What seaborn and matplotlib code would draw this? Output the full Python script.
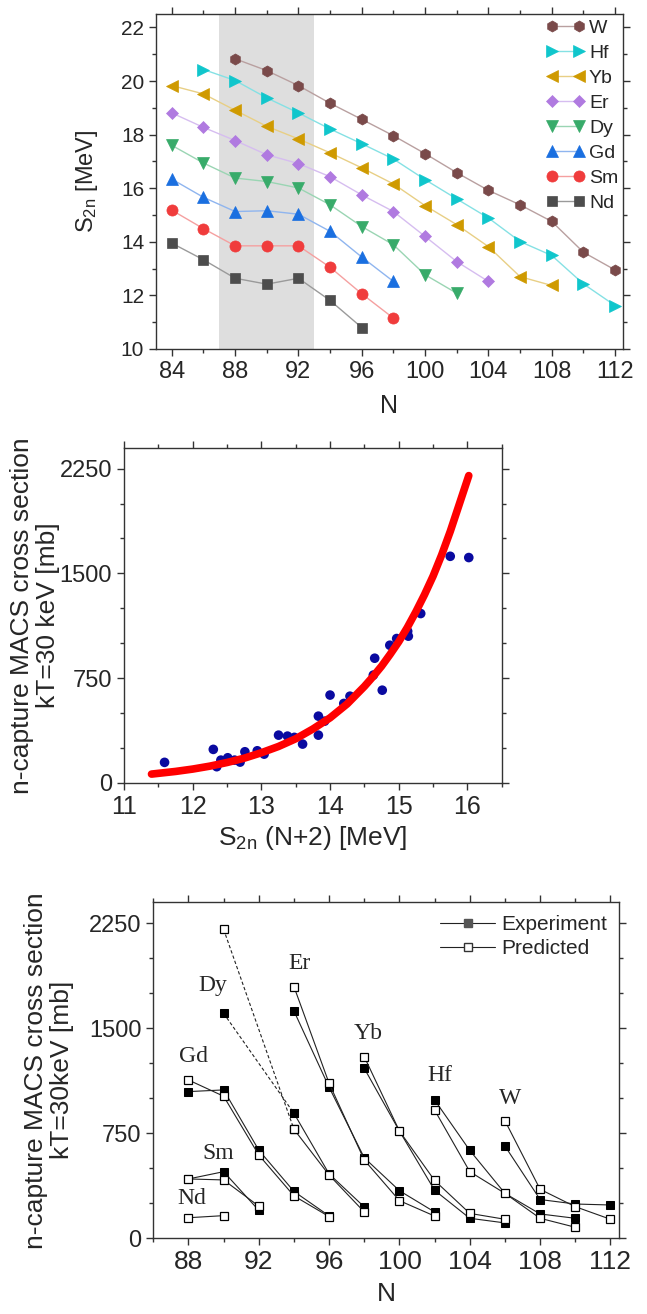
import numpy as np
import pandas as pd
import matplotlib
matplotlib.use("Agg")
import matplotlib.pyplot as plt
from matplotlib.ticker import MultipleLocator
import seaborn as sns

# ---- panel (a): S2n vs N ----
elements = ["Nd", "Sm", "Gd", "Dy", "Er", "Yb", "Hf", "W"]
n_nd = [84, 86, 88, 90, 92, 94, 96]
s2n_nd = [13.95, 13.33, 12.64, 12.42, 12.64, 11.81, 10.80]
n_sm = [84, 86, 88, 90, 92, 94, 96, 98]
s2n_sm = [15.18, 14.49, 13.85, 13.85, 13.85, 13.05, 12.06, 11.15]
n_gd = [84, 86, 88, 90, 92, 94, 96, 98]
s2n_gd = [16.34, 15.66, 15.13, 15.16, 15.03, 14.39, 13.43, 12.52]
n_dy = [84, 86, 88, 90, 92, 94, 96, 98, 100, 102]
s2n_dy = [17.60, 16.94, 16.38, 16.25, 16.01, 15.38, 14.57, 13.89, 12.77, 12.08]
n_er = [84, 86, 88, 90, 92, 94, 96, 98, 100, 102, 104]
s2n_er = [18.81, 18.27, 17.78, 17.25, 16.92, 16.43, 15.75, 15.13, 14.20, 13.26, 12.52]
n_yb = [84, 86, 88, 90, 92, 94, 96, 98, 100, 102, 104, 106, 108]
s2n_yb = [19.83, 19.52, 18.91, 18.31, 17.84, 17.32, 16.76, 16.16, 15.35, 14.64, 13.82, 12.70, 12.37]
n_hf = [86, 88, 90, 92, 94, 96, 98, 100, 102, 104, 106, 108, 110, 112]
s2n_hf = [20.43, 20.02, 19.37, 18.81, 18.21, 17.66, 17.09, 16.32, 15.60, 14.89, 14.01, 13.49, 12.43, 11.62]
n_w = [88, 90, 92, 94, 96, 98, 100, 102, 104, 106, 108, 110, 112]
s2n_w = [20.83, 20.39, 19.83, 19.17, 18.57, 17.96, 17.29, 16.58, 15.92, 15.38, 14.76, 13.61, 12.95]

# ---- panel (b): MACS vs S2n(N+2) ----
s2n_pts = [11.59, 12.30, 12.35, 12.41, 12.51, 12.61, 12.69, 12.76, 12.94, 13.04,
           13.25, 13.38, 13.48, 13.60, 13.83, 13.83, 13.92, 14.00, 14.20, 14.29,
           14.63, 14.65, 14.76, 14.87, 14.97, 15.13, 15.14, 15.32, 15.75, 16.02]
macs_pts = [146, 239, 115, 162, 179, 162, 148, 222, 229, 205,
            341, 334, 325, 277, 477, 341, 441, 628, 568, 620,
            771, 892, 663, 985, 1033, 1085, 1050, 1212, 1622, 1613]
# red trend curve
fit_x = [11.4, 11.75, 12.0, 12.25, 12.5, 12.75, 13.0, 13.25, 13.5, 13.75,
         14.0, 14.25, 14.5, 14.625, 14.75, 14.875, 15.0, 15.125, 15.25,
         15.375, 15.5, 15.625, 15.75, 15.875, 16.02]
fit_y = [62, 81, 98, 119, 145, 176, 215, 260, 315, 385,
         465, 565, 690, 760, 835, 920, 1010, 1112, 1225,
         1347, 1480, 1632, 1800, 1985, 2200]

# ---- panel (c): MACS vs N, experiment / predicted ----
c_n_nd = [88, 90]
c_pred_nd = [147, 162]
c_n_sm = [88, 90, 92]
c_exp_sm = [424, 476, 200]
c_pred_sm = [424, 417, 230]
c_n_gd = [88, 90, 92, 94, 96]
c_exp_gd = [1048, 1060, 630, 335, 160]
c_pred_gd = [1131, 1015, 595, 303, 155]
c_n_dy = [90, 94, 96, 98]
c_exp_dy = [1607, 893, 460, 224]
c_pred_dy = [2207, 779, 452, 188]
c_n_er = [94, 96, 98, 100, 102]
c_exp_er = [1624, 1079, 575, 340, 188]
c_pred_er = [1798, 1107, 559, 269, 159]
c_n_yb = [98, 100, 102, 104, 106]
c_exp_yb = [1214, 766, 343, 143, 110]
c_pred_yb = [1297, 766, 413, 178, 136]
c_n_hf = [102, 104, 106, 108, 110]
c_exp_hf = [988, 628, 321, 174, 143]
c_pred_hf = [916, 476, 321, 143, 79]
c_n_w = [106, 108, 110, 112]
c_exp_w = [659, 277, 245, 238]
c_pred_w = [840, 350, 226, 136]

sns.set_style("ticks")
plt.rcParams["font.family"] = ["Liberation Sans", "DejaVu Sans"]
plt.rcParams["mathtext.fontset"] = "custom"
plt.rcParams["mathtext.rm"] = "Liberation Sans"
plt.rcParams["mathtext.it"] = "Liberation Sans"

fig = plt.figure(figsize=(6.47, 13.14), dpi=100)
ax1 = fig.add_axes([0.2411, 0.7344, 0.7218, 0.2549])
ax2 = fig.add_axes([0.1917, 0.4043, 0.5838, 0.2550])
ax3 = fig.add_axes([0.2369, 0.0576, 0.7202, 0.2557])


def style_axis(ax, xfs, yfs):
    ax.tick_params(which="both", direction="out", top=True, right=True,
                   labeltop=False, labelright=False, width=1, color="#333333")
    ax.tick_params(which="major", length=5)
    ax.tick_params(which="minor", length=3)
    ax.tick_params(axis="x", labelsize=xfs)
    ax.tick_params(axis="y", labelsize=yfs)
    for sp in ax.spines.values():
        sp.set_visible(True)
        sp.set_linewidth(1)
        sp.set_color("#333333")


# ---------- top panel ----------
top_series = {
    "Nd": (n_nd, s2n_nd, "s", "#4d4d4d", "#9a9a9a"),
    "Sm": (n_sm, s2n_sm, "o", "#f03c3c", "#f5a0a0"),
    "Gd": (n_gd, s2n_gd, "^", "#1a6fe0", "#8fb5ef"),
    "Dy": (n_dy, s2n_dy, "v", "#38ab6a", "#9ad5b3"),
    "Er": (n_er, s2n_er, "D", "#b07ae0", "#d6bdf0"),
    "Yb": (n_yb, s2n_yb, "<", "#cf9a00", "#e8cf85"),
    "Hf": (n_hf, s2n_hf, ">", "#10c6cc", "#85e1e4"),
    "W": (n_w, s2n_w, "h", "#7a4a4a", "#b9a0a0"),
}
ax1.axvspan(87, 93, color="#dedede", zorder=0, lw=0)
handles = {}
for name in elements:
    xs, ys, mk, col, lcol = top_series[name]
    ms = 6.5 if mk in ("D", "s") else 8
    sns.lineplot(x=xs, y=ys, ax=ax1, marker=mk, color=col, linewidth=1,
                 markersize=ms, markeredgewidth=0.5, label=name)
    ln = ax1.lines[-1]
    ln.set_color(lcol)
    ln.set_markerfacecolor(col)
    ln.set_markeredgecolor(col)
    handles[name] = ln
order = ["W", "Hf", "Yb", "Er", "Dy", "Gd", "Sm", "Nd"]
ax1.legend([handles[k] for k in order], order, loc="upper right", frameon=False,
           fontsize=14, numpoints=2, handlelength=2.0, handletextpad=0.2,
           labelspacing=0.38, borderaxespad=0.05, borderpad=0.2)
ax1.set_xlim(83, 112.5)
ax1.set_ylim(10, 22.5)
ax1.xaxis.set_major_locator(MultipleLocator(4))
ax1.xaxis.set_minor_locator(MultipleLocator(2))
ax1.yaxis.set_major_locator(MultipleLocator(2))
ax1.yaxis.set_minor_locator(MultipleLocator(1))
style_axis(ax1, 17, 15)
ax1.set_xlabel("N", fontsize=18, labelpad=8)
ax1.set_ylabel(r"S$_{\mathrm{2n}}$ [MeV]", fontsize=17)
ax1.yaxis.set_label_coords(-0.12, 0.5)

# ---------- middle panel ----------
sns.scatterplot(x=s2n_pts, y=macs_pts, ax=ax2, color="#0a0aa0", s=48,
                edgecolor="none", zorder=3)
sns.lineplot(x=fit_x, y=fit_y, ax=ax2, color="red", linewidth=5.5,
             solid_capstyle="round", solid_joinstyle="round", zorder=4)
ax2.set_xlim(11, 16.5)
ax2.set_ylim(0, 2400)
ax2.xaxis.set_major_locator(MultipleLocator(1))
ax2.xaxis.set_minor_locator(MultipleLocator(0.5))
ax2.yaxis.set_major_locator(MultipleLocator(750))
ax2.yaxis.set_minor_locator(MultipleLocator(250))
style_axis(ax2, 18, 17)
ax2.set_xlabel(r"S$_{\mathrm{2n}}$ (N+2) [MeV]", fontsize=19)
ax2.set_ylabel("n-capture MACS cross section\nkT=30 keV [mb]", fontsize=19,
               linespacing=1.1)
ax2.yaxis.set_label_coords(-0.17, 0.5)

# ---------- bottom panel ----------
bottom_series = [
    (c_n_sm, c_exp_sm), (c_n_gd, c_exp_gd), (c_n_er, c_exp_er),
    (c_n_yb, c_exp_yb), (c_n_hf, c_exp_hf), (c_n_w, c_exp_w),
]
pred_series = [
    (c_n_nd, c_pred_nd), (c_n_sm, c_pred_sm), (c_n_gd, c_pred_gd),
    (c_n_er, c_pred_er), (c_n_yb, c_pred_yb), (c_n_hf, c_pred_hf),
    (c_n_w, c_pred_w),
]
exp_kw = dict(marker="s", color="#222222", linewidth=0.8, markersize=6,
              markerfacecolor="black", markeredgecolor="black", ax=ax3)
pred_kw = dict(marker="s", color="#222222", linewidth=0.8, markersize=6,
               markerfacecolor="white", markeredgecolor="black",
               markeredgewidth=0.9, ax=ax3)
for xs, ys in bottom_series:
    sns.lineplot(x=xs, y=ys, **exp_kw)
# Dy: dashed across the missing N=92, solid afterwards
sns.lineplot(x=c_n_dy[:2], y=c_exp_dy[:2], linestyle=(0, (3, 2)), **exp_kw)
sns.lineplot(x=c_n_dy[1:], y=c_exp_dy[1:], **exp_kw)
for xs, ys in pred_series:
    sns.lineplot(x=xs, y=ys, **pred_kw)
sns.lineplot(x=c_n_dy[:2], y=c_pred_dy[:2], linestyle=(0, (3, 2)), **pred_kw)
sns.lineplot(x=c_n_dy[1:], y=c_pred_dy[1:], **pred_kw)

label_pos = {"Nd": (88.2, 286), "Sm": (89.7, 607), "Gd": (88.3, 1297),
             "Dy": (89.4, 1809), "Er": (94.3, 1964), "Yb": (98.2, 1464),
             "Hf": (102.3, 1166), "W": (106.3, 1000)}
for name, (lx, ly) in label_pos.items():
    ax3.text(lx, ly, name, ha="center", va="center", fontsize=17,
             family=["Liberation Serif", "DejaVu Serif"])

h_exp = plt.Line2D([], [], marker="s", color="#222222", lw=0.8, ms=6,
                   mfc="#555555", mec="#555555")
h_pred = plt.Line2D([], [], marker="s", color="#222222", lw=0.8, ms=6,
                    mfc="white", mec="#333333")
ax3.legend([h_exp, h_pred], ["Experiment", "Predicted"], loc="upper right",
           frameon=False, fontsize=15, numpoints=1, handlelength=2.6,
           handletextpad=0.3, labelspacing=0.25, borderaxespad=0.2)
ax3.set_xlim(86, 112.5)
ax3.set_ylim(0, 2400)
ax3.xaxis.set_major_locator(MultipleLocator(4))
ax3.xaxis.set_minor_locator(MultipleLocator(2))
ax3.yaxis.set_major_locator(MultipleLocator(750))
ax3.yaxis.set_minor_locator(MultipleLocator(250))
style_axis(ax3, 19, 17)
ax3.set_xlabel("N", fontsize=19, labelpad=6)
ax3.set_ylabel("n-capture MACS cross section\nkT=30keV [mb]", fontsize=19,
               linespacing=1.1)
ax3.yaxis.set_label_coords(-0.17, 0.5)

fig.savefig("out.png", dpi=100)
